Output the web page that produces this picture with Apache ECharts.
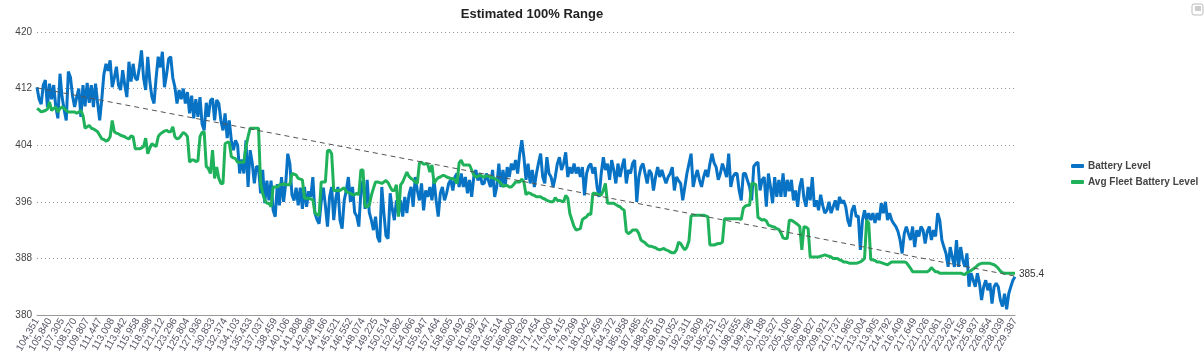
<!DOCTYPE html>
<html><head><meta charset="utf-8">
<script src="https://cdn.jsdelivr.net/npm/echarts@6/dist/echarts.min.js"></script>
<style>html,body{margin:0;padding:0;background:#fff}#c{width:1204px;height:362px}</style>
</head><body><div id="c"></div>
<script>
const tickLabels = ['104,351','105,840','107,305','108,570','109,807','111,447','113,008','113,942','115,958','118,398','121,212','123,296','125,804','127,936','130,833','132,374','134,103','135,433','137,037','138,459','140,106','141,808','142,968','144,166','145,521','146,552','148,074','149,225','150,514','152,082','154,066','155,947','157,464','158,605','160,492','161,992','163,447','165,514','166,800','168,626','171,454','174,000','176,415','179,299','181,042','182,459','184,372','185,958','187,485','188,875','189,819','191,052','192,311','193,809','195,251','197,152','198,655','199,796','201,188','203,527','205,106','206,687','208,827','209,921','210,737','211,965','213,004','213,905','214,792','216,409','217,649','221,026','222,061','223,262','224,156','225,937','226,954','228,039','229,387'];

const batteryLevel = [
412.2,410.5,409.8,412.5,413.2,409.4,412.7,410.5,412.5,409.4,
407.8,414.1,410.8,409.0,407.5,414.4,413.6,411.0,409.4,410.8,
412.0,408.0,412.5,409.5,412.8,410.0,412.5,409.4,412.7,410.0,
407.5,410.5,414.0,415.5,414.5,416.0,412.2,413.5,415.1,412.5,
411.8,414.6,412.5,410.8,415.8,413.0,415.5,413.5,413.2,415.0,
417.4,413.5,411.8,416.5,413.0,410.8,409.9,413.5,416.5,415.0,
417.2,412.2,414.0,416.2,416.5,413.5,412.2,409.9,411.8,410.5,
412.0,409.9,411.5,408.5,411.0,407.8,410.5,408.0,410.8,407.0,
406.1,410.0,408.0,410.3,410.6,407.5,410.4,409.9,407.5,406.1,
408.5,405.0,407.5,404.7,403.3,404.7,404.0,400.0,402.0,400.0,
404.7,398.1,403.3,401.5,398.6,401.0,400.9,397.2,400.5,395.8,
399.0,396.2,399.0,394.8,393.9,398.5,
395.5,399.5,396.0,398.5,402.8,401.4,397.0,396.2,398.0,395.5,
398.0,395.0,398.1,395.3,397.5,396.7,399.5,394.4,393.5,392.9,
396.0,398.0,395.5,392.5,396.7,398.1,393.4,396.5,398.1,393.4,
392.2,396.2,397.6,399.5,396.0,398.1,394.5,394.0,392.5,397.5,
399.0,395.0,399.1,394.5,393.4,392.0,393.9,391.0,390.3,398.1,
394.4,391.2,390.8,397.2,395.0,393.4,396.2,394.4,396.2,393.9,
396.7,394.4,397.0,398.1,395.3,399.5,397.6,396.2,398.6,394.8,
397.6,396.7,398.1,396.2,399.1,396.2,393.9,397.2,398.1,396.2,
397.2,398.6,399.1,397.6,399.5,400.0,398.1,400.0,398.1,399.5,
397.2,399.1,396.7,399.5,400.5,399.0,400.0,398.5,398.6,400.0,
399.0,398.1,400.5,396.7,398.1,401.4,398.1,400.5,398.1,400.9,
399.5,401.4,400.5,
401.9,400.0,402.8,404.7,402.3,399.1,401.4,398.6,400.5,398.1,
400.0,401.5,402.8,399.5,398.6,402.3,400.0,399.5,398.1,399.5,
401.4,402.3,400.5,401.4,403.0,399.5,400.9,400.0,401.4,400.0,
400.9,399.5,400.9,396.9,400.0,401.0,401.4,400.0,400.9,398.1,
396.7,400.0,402.3,400.5,401.4,399.1,401.9,400.5,398.6,401.4,
399.5,401.0,402.1,398.6,400.5,400.0,401.4,401.9,396.0,399.5,
400.9,401.4,400.0,398.6,400.5,400.0,397.6,399.5,400.9,399.5,
400.5,399.5,398.6,399.5,400.0,400.9,397.6,399.5,399.0,398.6,
396.2,398.1,400.0,401.4,402.8,398.1,399.5,400.5,399.1,398.1,
399.5,400.5,399.5,401.4,402.8,401.5,400.9,399.1,400.0,401.4,
400.5,399.5,402.8,398.1,399.5,400.0,400.0,397.6,396.2,400.0,
400.0,399.0,398.1,396.2,
401.0,401.4,401.6,397.6,399.1,399.5,395.3,400.0,398.1,395.8,
399.5,396.7,399.1,396.7,400.0,396.7,399.1,397.5,399.1,396.2,
397.6,395.3,398.1,399.3,396.5,395.3,398.1,396.2,399.5,395.3,
396.2,394.8,397.0,395.5,394.4,394.8,396.0,394.4,395.3,396.2,
394.8,396.7,395.8,396.2,395.3,393.4,392.5,394.8,395.5,393.9,
394.0,389.2,393.4,394.8,393.4,394.4,393.4,394.4,393.0,394.4,
393.4,395.8,394.4,396.0,393.4,394.4,393.4,392.9,392.5,391.8,
390.6,388.7,391.5,392.5,391.5,390.6,392.5,389.6,392.0,391.1,
392.5,392.0,390.1,391.8,392.5,390.6,392.0,391.1,394.4,393.4,
390.6,389.6,388.7,386.8,389.6,388.2,386.8,390.6,386.8,389.6,
387.8,386.8,388.7,384.0,385.9,384.9,384.0,385.9,384.5,382.1,
384.0,384.9,383.5,384.5,381.6,384.0,384.5,384.0,382.1,381.2,
383.0,380.8,383.0,384.0,384.9,385.4
];

const avgFleetBatteryLevel = [
409.2,409.0,408.7,408.8,408.9,409.1,410.1,408.9,409.2,409.4,
408.7,409.2,409.4,409.2,408.9,408.7,408.7,408.7,408.7,408.5,
408.7,408.9,408.2,406.4,406.6,406.8,406.4,406.3,406.1,405.9,
405.4,404.9,404.8,404.6,404.7,405.2,407.5,405.9,405.7,405.6,
405.4,405.3,405.2,405.0,404.9,405.3,405.2,403.5,403.5,403.5,
403.6,403.8,405.0,402.8,403.6,404.2,404.0,403.8,405.2,405.6,
405.8,406.0,406.1,405.9,405.9,406.6,405.2,404.9,405.0,405.4,
405.8,405.6,405.2,401.6,401.9,401.9,401.7,401.8,405.2,405.8,
405.9,401.0,400.7,400.0,403.3,399.3,400.9,399.3,398.6,398.6,
404.2,404.4,404.4,402.4,402.2,402.1,401.6,401.6,401.6,401.6,
403.8,405.2,406.4,406.4,406.4,406.4,406.4,398.6,397.2,396.2,
395.8,395.8,395.3,398.1,398.1,398.1,
398.4,398.4,398.6,398.4,398.4,398.4,400.0,399.9,399.8,399.3,
399.2,399.1,396.5,396.5,396.5,396.4,396.3,394.4,394.2,394.1,
398.8,398.8,398.8,403.2,403.3,402.8,397.6,397.6,397.6,397.6,
397.8,398.0,397.4,397.3,397.2,397.0,397.0,397.2,397.0,400.5,
400.5,395.4,395.3,395.5,396.9,397.9,398.8,398.8,398.7,398.6,
398.8,399.0,398.7,398.1,397.6,397.6,398.4,393.9,398.4,398.8,
399.5,400.2,399.6,399.3,399.1,398.8,398.6,401.5,401.6,401.3,
401.4,401.3,400.2,401.2,398.6,399.1,399.4,399.5,399.7,399.7,
399.5,399.4,399.3,399.3,399.1,398.6,401.5,401.9,401.2,401.2,
401.2,401.2,400.5,399.8,399.5,399.6,399.8,399.6,399.5,399.7,
399.6,399.5,399.4,399.3,399.1,398.9,398.6,398.2,398.3,398.3,
398.1,398.1,398.4,
398.8,398.8,398.8,399.2,398.8,397.0,397.3,397.2,397.0,396.9,
396.7,396.7,396.7,396.5,396.4,396.2,396.1,396.0,396.0,396.6,
396.2,396.2,396.1,396.0,396.9,396.5,394.3,393.4,392.5,392.0,
392.1,392.2,393.5,393.7,393.9,394.3,394.2,397.2,397.2,397.1,
397.0,397.0,397.6,398.6,395.8,395.8,395.8,395.8,395.6,395.4,
395.3,395.0,394.8,391.8,391.5,391.7,392.0,392.0,392.0,391.5,
390.6,390.4,390.2,389.9,389.7,389.7,389.6,389.5,389.3,389.2,
389.3,389.4,389.2,389.1,388.9,388.8,388.8,389.2,390.3,390.1,
389.6,389.2,389.6,390.5,394.0,394.1,394.1,394.1,394.1,394.1,
394.1,394.0,393.9,389.9,389.9,389.9,390.0,390.1,390.1,390.3,
393.6,393.6,393.6,393.6,393.6,393.6,393.6,393.6,393.5,395.1,
395.4,395.5,395.5,398.6,
398.6,398.4,393.8,393.6,393.4,393.5,393.3,392.7,392.6,392.5,
392.4,392.2,392.1,391.6,390.9,390.8,390.8,393.4,393.4,393.2,
393.0,392.8,392.5,389.2,392.5,392.4,392.2,388.2,388.2,388.2,
388.2,388.2,388.3,388.4,388.5,388.4,388.3,388.2,388.0,388.0,
388.0,387.8,387.7,387.5,387.5,387.4,387.3,387.3,387.3,387.3,
387.4,387.5,387.7,388.0,393.4,393.0,387.8,387.8,387.7,387.5,
387.5,387.4,387.3,387.2,387.1,387.3,387.5,387.5,387.5,387.5,
387.5,387.5,387.5,387.4,387.0,386.6,386.1,386.1,386.1,386.1,
386.1,386.1,386.1,386.1,386.3,386.7,386.4,386.1,386.1,385.9,
385.9,385.9,385.9,385.9,385.9,385.9,385.9,385.9,385.9,385.9,
385.8,385.7,386.0,386.1,386.3,386.5,386.7,387.0,387.2,387.3,
387.3,387.3,387.3,387.3,387.2,387.1,386.9,386.6,386.2,386.0,
385.9,385.9,385.9,385.9,385.9,385.9
];

const trendLine = [412.1, 385.5];
const seriesNames = ['Battery Level', 'Avg Fleet Battery Level'];
const titleText = 'Estimated 100% Range';

const step = (batteryLevel.length - 1) / (tickLabels.length - 1);
const categories = batteryLevel.map((v, i) => (i % step === 0 ? tickLabels[i / step] : ''));

const font = "'Liberation Sans', Arial, sans-serif";
const chart = echarts.init(document.getElementById('c'), null, {renderer: 'canvas'});
chart.setOption({
  animation: false,
  backgroundColor: '#fff',
  textStyle: {fontFamily: font},
  title: {
    text: titleText, left: 527, top: 3, textAlign: 'center',
    textStyle: {fontSize: 13, fontWeight: 'bold', color: '#222', fontFamily: font}
  },
  legend: {
    orient: 'vertical', left: 1066, top: 156, itemGap: 6,
    itemWidth: 13, itemHeight: 4, icon: 'roundRect',
    data: seriesNames,
    textStyle: {fontSize: 10, fontWeight: 'bold', color: '#444', fontFamily: font, padding: [0, 0, 0, -1]}
  },
  grid: {left: 37, right: 189, top: 32, bottom: 47, containLabel: false},
  xAxis: {
    type: 'category', data: categories, boundaryGap: false,
    axisLine: {lineStyle: {color: '#999', width: 1}},
    axisTick: {show: false},
    axisLabel: {interval: step - 1, rotate: 60, fontSize: 10, color: '#556', margin: 4, fontFamily: font},
    splitLine: {show: false}
  },
  yAxis: {
    type: 'value', min: 380, max: 420, interval: 8,
    axisLine: {show: false}, axisTick: {show: false},
    axisLabel: {fontSize: 10, color: '#444', margin: 5, fontFamily: font},
    splitLine: {lineStyle: {type: [1, 3], color: '#999', width: 1}}
  },
  series: [
    {
      name: seriesNames[0], type: 'line', data: batteryLevel, symbol: 'none',
      lineStyle: {color: '#0873c4', width: 3}, itemStyle: {color: '#0873c4'},
      endLabel: {show: true, formatter: p => p.value, fontSize: 10, color: '#333', distance: 4, offset: [0, -3], fontFamily: font}
    },
    {
      name: seriesNames[1], type: 'line', data: avgFleetBatteryLevel, symbol: 'none',
      lineStyle: {color: '#1fb25a', width: 3}, itemStyle: {color: '#1fb25a'},
      markLine: {
        silent: true, symbol: ['none', 'none'], label: {show: false},
        lineStyle: {type: [5, 4], color: '#555', width: 1},
        emphasis: {disabled: true},
        data: [[{coord: [0, trendLine[0]]}, {coord: [batteryLevel.length - 1, trendLine[1]]}]]
      }
    }
  ],
  graphic: [
    {type: 'rect', shape: {x: 1192, y: 4, width: 11, height: 11, r: 2}, style: {fill: '#fff', stroke: '#bbb', lineWidth: 1}},
    {type: 'rect', shape: {x: 1195, y: 6, width: 6, height: 5}, style: {fill: '#ccc'}}
  ]
});
</script></body></html>
